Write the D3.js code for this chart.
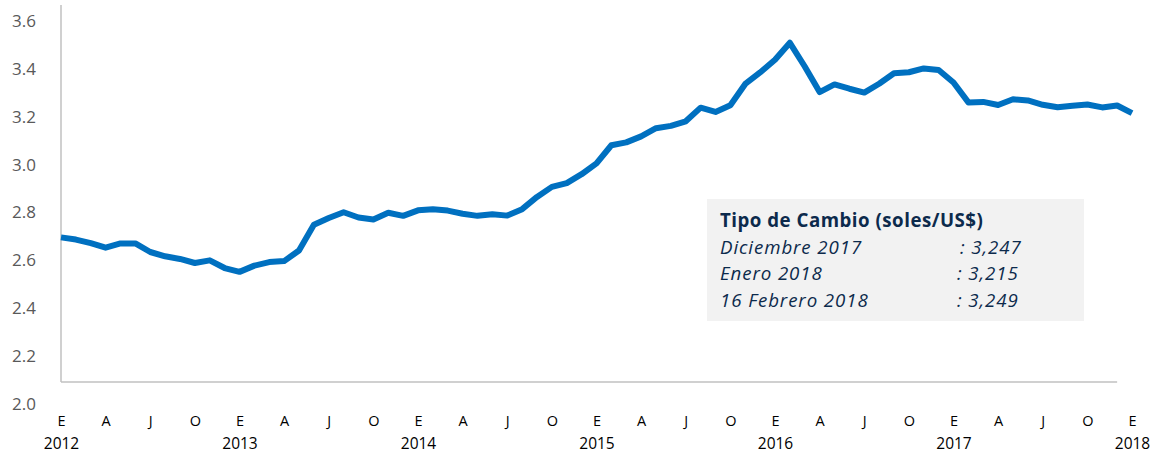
<!DOCTYPE html>
<html>
<head>
<meta charset="utf-8">
<script src="https://cdn.jsdelivr.net/npm/d3@7"></script>
<style>
  body { margin: 0; background: #fff; }
  svg { display: block; font-family: "Open Sans", "Noto Sans", sans-serif; }
</style>
</head>
<body>
<svg></svg>
<script>
// monthly average exchange rate, Jan 2012 .. Jan 2018
let years = ['2012', '2013', '2014', '2015', '2016', '2017', '2018']
let monthLetters = ['E', 'A', 'J', 'O']
let rate2012 = [2.696, 2.687, 2.672, 2.653, 2.671, 2.671, 2.635, 2.617, 2.606, 2.589, 2.600, 2.568]
let rate2013 = [2.552, 2.578, 2.593, 2.597, 2.641, 2.749, 2.777, 2.801, 2.779, 2.771, 2.799, 2.786]
let rate2014 = [2.809, 2.814, 2.808, 2.795, 2.786, 2.793, 2.787, 2.814, 2.865, 2.907, 2.923, 2.960]
let rate2015 = [3.005, 3.081, 3.093, 3.118, 3.152, 3.162, 3.181, 3.238, 3.220, 3.248, 3.337, 3.385]
let rate2016 = [3.438, 3.509, 3.410, 3.303, 3.335, 3.317, 3.301, 3.338, 3.382, 3.386, 3.402, 3.395]
let rate2017 = [3.343, 3.260, 3.262, 3.249, 3.273, 3.268, 3.250, 3.240, 3.246, 3.251, 3.239, 3.247]
let rate2018 = [3.215]
let yTicks = [2.0, 2.2, 2.4, 2.6, 2.8, 3.0, 3.2, 3.4, 3.6]

let boxTitle = 'Tipo de Cambio (soles/US$)'
let boxLabels = ['Diciembre 2017', 'Enero 2018', '16 Febrero 2018']
let boxValues = [': 3,247', ': 3,215', ': 3,249']

let values = [].concat(rate2012, rate2013, rate2014, rate2015, rate2016, rate2017, rate2018)

let width = 1156
let height = 460

let svg = d3.select('svg')
    .attr('width', width)
    .attr('height', height)

let xScale = d3.scaleLinear()
    .domain([0, values.length - 1])
    .range([61, 1132])

let yScale = d3.scaleLinear()
    .domain([2.0, 3.6])
    .range([404, 21])

// plot frame (Excel style: axis line sits a bit above the 2.0 label)
let frameBottom = yScale(2.092)
let frameTop = yScale(3.667)

svg.append('line')
    .attr('x1', xScale(0)).attr('x2', xScale(0))
    .attr('y1', frameTop).attr('y2', frameBottom)
    .attr('stroke', '#c0c0c0').attr('stroke-width', 1.5)

svg.append('line')
    .attr('x1', xScale(0)).attr('x2', xScale(71))
    .attr('y1', frameBottom).attr('y2', frameBottom)
    .attr('stroke', '#c0c0c0').attr('stroke-width', 1.5)

// y axis labels
let yAxis = d3.axisLeft(yScale)
    .tickValues(yTicks)
    .tickFormat(d3.format('.1f'))
    .tickSize(0)
    .tickPadding(0)

svg.append('g')
    .attr('transform', 'translate(36,0)')
    .call(yAxis)
    .call(g => g.select('.domain').remove())
    .selectAll('text')
    .attr('fill', '#595959')
    .style('font-size', '17px')
    .style('font-family', '"Open Sans", sans-serif')

// month letters
let monthIdx = d3.range(0, values.length, 3)
let xAxis = d3.axisBottom(xScale)
    .tickValues(monthIdx)
    .tickFormat(i => monthLetters[(i / 3) % 4])
    .tickSize(0)
    .tickPadding(0)

svg.append('g')
    .attr('transform', 'translate(0,416)')
    .call(xAxis)
    .call(g => g.select('.domain').remove())
    .selectAll('text')
    .attr('fill', '#000')
    .style('font-size', '14.5px')
    .style('font-family', '"Open Sans", sans-serif')

// years under every E
let yearAxis = d3.axisBottom(xScale)
    .tickValues(years.map((y, i) => i * 12))
    .tickFormat((d, i) => years[i])
    .tickSize(0)
    .tickPadding(0)

svg.append('g')
    .attr('transform', 'translate(0,438)')
    .call(yearAxis)
    .call(g => g.select('.domain').remove())
    .selectAll('text')
    .attr('fill', '#000')
    .style('font-size', '15.5px')
    .style('font-family', '"Open Sans", sans-serif')

// the line
let line = d3.line()
    .x((d, i) => xScale(i))
    .y(d => yScale(d))

svg.append('path')
    .datum(values)
    .attr('d', line)
    .attr('fill', 'none')
    .attr('stroke', '#0070c0')
    .attr('stroke-width', 6)
    .attr('stroke-linejoin', 'round')

// info box
let box = svg.append('g')

box.append('rect')
    .attr('x', 707).attr('y', 199)
    .attr('width', 377).attr('height', 122)
    .attr('fill', '#f2f2f2')

box.append('text')
    .attr('x', 720).attr('y', 227)
    .attr('fill', '#0c2a4c')
    .style('font-size', '18.7px')
    .style('font-weight', 'bold')
    .style('letter-spacing', '0.5px')
    .text(boxTitle)

boxLabels.forEach((lab, i) => {
    box.append('text')
        .attr('x', 720).attr('y', 253.5 + i * 26.5)
        .attr('fill', '#0c2a4c')
        .style('font-size', '18.7px')
        .style('font-style', 'italic')
        .style('letter-spacing', '0.9px')
        .text(lab)
    box.append('text')
        .attr('x', i == 0 ? 960 : 957).attr('y', 253.5 + i * 26.5)
        .attr('fill', '#0c2a4c')
        .style('font-size', '18.7px')
        .style('font-style', 'italic')
        .style('letter-spacing', '0.9px')
        .text(boxValues[i])
})
</script>
</body>
</html>
